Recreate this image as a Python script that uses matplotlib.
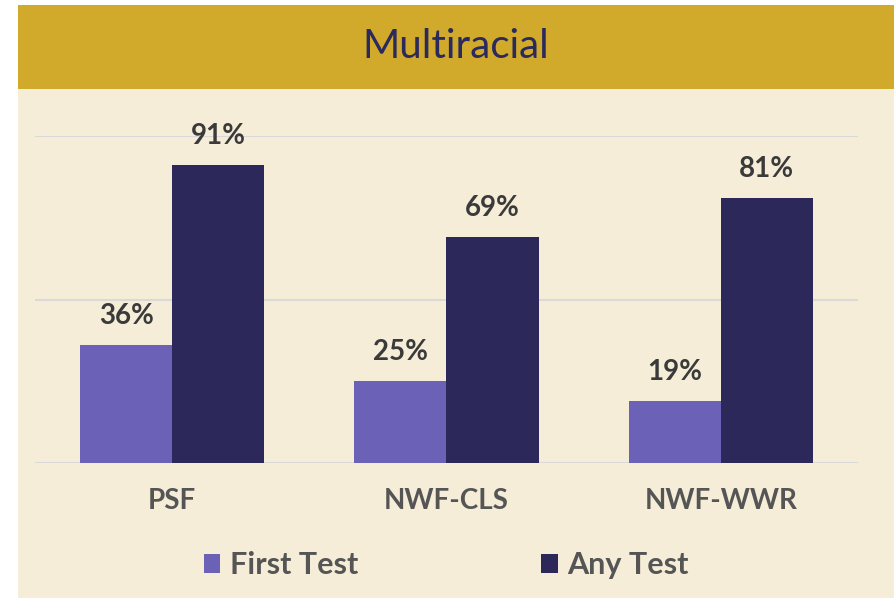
import numpy as np
import matplotlib.pyplot as plt
from matplotlib.patches import Rectangle

# chart data
categories = ["PSF", "NWF-CLS", "NWF-WWR"]
first_test = [36, 25, 19]
any_test = [91, 69, 81]
series_names = ["First Test", "Any Test"]

gold = "#D1A92B"
cream = "#F5EDD7"
navy = "#2C2859"
purple = "#6B62B8"

fig = plt.figure(figsize=(8.95, 5.98), dpi=100)
fig.patch.set_facecolor("white")

# background panels (cream body + gold header band)
fig.patches.append(Rectangle((18 / 895, 0), 1, 1 - 89 / 598, transform=fig.transFigure,
                             facecolor=cream, edgecolor="none", zorder=-2))
fig.patches.append(Rectangle((18 / 895, 1 - 89 / 598), 1, 84 / 598, transform=fig.transFigure,
                             facecolor=gold, edgecolor="none", zorder=-2))
fig.text(456 / 895, 1 - 47 / 598, "Multiracial", ha="center", va="center",
         fontsize=29, family="Lato", fontweight="normal", color="#2B2A5C")

ax = fig.add_axes([35 / 895, 1 - 463 / 598, 823 / 895, 327 / 598])
ax.set_facecolor("none")

x = np.arange(len(categories))
w = 0.336
b1 = ax.bar(x - w / 2, first_test, w, color=purple, label=series_names[0], zorder=2)
b2 = ax.bar(x + w / 2, any_test, w, color=navy, label=series_names[1], zorder=2)

for bars, vals in [(b1, first_test), (b2, any_test)]:
    for rect, v in zip(bars, vals):
        ax.annotate(f"{v}%", (rect.get_x() + rect.get_width() / 2, v),
                    xytext=(0, 16), textcoords="offset pixels",
                    ha="center", va="bottom", fontsize=20, family="Lato",
                    fontweight="bold", color="#3A3A3A", annotation_clip=False)

ax.set_xlim(-0.5, 2.5)
ax.set_ylim(0, 100)
ax.set_yticks([0, 50, 100])
ax.yaxis.grid(True, color="#D9D9D9", linewidth=1.5, zorder=0)
ax.set_axisbelow(True)
ax.tick_params(axis="y", length=0, labelleft=False)
ax.tick_params(axis="x", length=0, pad=18)
ax.set_xticks(x)
ax.set_xticklabels(categories, fontsize=20, family="Lato", fontweight="bold", color="#555555")
for s in ax.spines.values():
    s.set_visible(False)

leg = fig.legend(handles=[b1, b2], labels=series_names, loc="center",
                 bbox_to_anchor=(446 / 895, 1 - 565 / 598), ncol=2, frameon=False,
                 prop={"family": "Lato", "size": 22, "weight": "bold"},
                 handlelength=0.55, handleheight=0.6,
                 handletextpad=0.3, columnspacing=6.0)
for t in leg.get_texts():
    t.set_color("#555555")

fig.savefig("out.png", dpi=100, facecolor=fig.get_facecolor())
